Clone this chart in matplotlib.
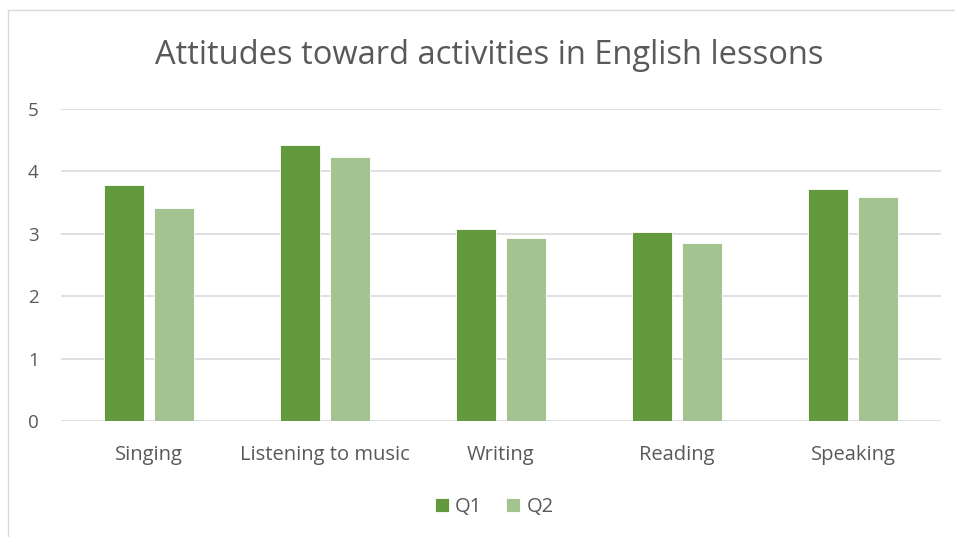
import matplotlib.pyplot as plt
import numpy as np
from matplotlib.patches import Rectangle

plt.rcParams['font.family'] = ['Open Sans', 'DejaVu Sans']

activities = ["Singing", "Listening to music", "Writing", "Reading", "Speaking"]
q1 = [3.78, 4.42, 3.08, 3.03, 3.72]
q2 = [3.41, 4.23, 2.93, 2.85, 3.59]

c_q1 = "#639a3e"
c_q2 = "#a3c491"
grey = "#595959"

fig = plt.figure(figsize=(9.55, 5.37), dpi=100)
ax = fig.add_axes([61 / 955, 116 / 537, 880 / 955, 312 / 537])

x = np.arange(len(activities))
w = 0.222
off = 0.142
ax.bar(x - off, q1, w, color=c_q1, edgecolor="white", linewidth=0.6, label="Q1", zorder=3)
ax.bar(x + off, q2, w, color=c_q2, edgecolor="white", linewidth=0.6, label="Q2", zorder=3)

ax.set_xlim(-0.5, len(activities) - 0.5)
ax.set_ylim(0, 5)
ax.set_yticks(range(6))
ax.set_xticks(x)
ax.set_xticklabels(activities)
ax.yaxis.grid(True, color="#d9d9d9", linewidth=1.2, zorder=0)
for s in ax.spines.values():
    s.set_visible(False)
ax.tick_params(length=0, labelcolor=grey)
ax.tick_params(axis="x", pad=17, labelsize=14.5)
ax.tick_params(axis="y", pad=16, labelsize=13.5)

fig.text(489 / 955, 1 - 55 / 537, "Attitudes toward activities in English lessons",
         ha="center", va="center", fontsize=23.5, color=grey)

fig.legend(loc="center", bbox_to_anchor=(494 / 955, 1 - 507 / 537), ncol=2,
           frameon=False, fontsize=14.5, labelcolor=grey, handlelength=0.7,
           handleheight=0.7, handletextpad=0.3, columnspacing=1.2)

# chart frame
fig.patches.append(Rectangle((8 / 955, -0.01), 1.1, 1 - 10 / 537 + 0.01,
                             transform=fig.transFigure, fill=False,
                             edgecolor="#d9d9d9", linewidth=1))

fig.savefig("out.png", dpi=100)
